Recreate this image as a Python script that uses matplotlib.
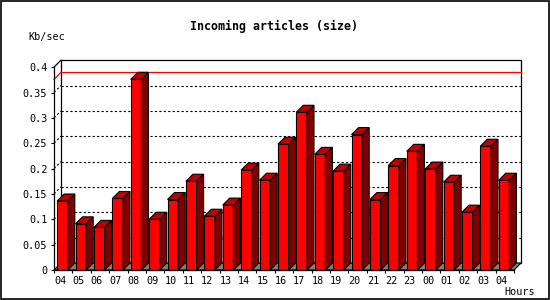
import matplotlib
matplotlib.use('Agg')
import matplotlib.pyplot as plt
from matplotlib.patches import Polygon, Rectangle
import numpy as np

# ---- data ----
hours = ['04', '05', '06', '07', '08', '09', '10', '11', '12', '13', '14', '15', '16',
         '17', '18', '19', '20', '21', '22', '23', '00', '01', '02', '03', '04']
values = [0.136, 0.091, 0.084, 0.141, 0.376, 0.100, 0.139, 0.175, 0.106, 0.128, 0.197,
          0.177, 0.248, 0.311, 0.228, 0.195, 0.267, 0.139, 0.206, 0.234, 0.199, 0.173,
          0.114, 0.244, 0.177]
y_ticks = [0, 0.05, 0.1, 0.15, 0.2, 0.25, 0.3, 0.35, 0.4]
y_tick_labels = ['0', '0.05', '0.1', '0.15', '0.2', '0.25', '0.3', '0.35', '0.4']
title = 'Incoming articles (size)'
y_unit = 'Kb/sec'
x_unit = 'Hours'

MONO = ['DejaVu Sans Mono']
W, H = 550, 300
fig = plt.figure(figsize=(W / 100, H / 100), dpi=100)
fig.patch.set_facecolor('white')
fig.patches.append(Rectangle((0.7 / W, 0.7 / H), 1 - 1.4 / W, 1 - 1.4 / H, transform=fig.transFigure,
                             fill=False, ec='black', lw=1.2))

n = len(hours)
ymax = 0.42
ax = fig.add_axes([54 / W, 30 / H, 460 / W, 213 / H])
ax.set_xlim(-0.5, n - 0.5)
ax.set_ylim(0, ymax)
ax.set_facecolor('none')
px_x = 460 / n
px_y = 213 / ymax
dx = 7 / px_x
dy = 7 / px_y
xl, xr = -0.5, n - 0.5
top = y_ticks[-1]

# back wall
ax.add_patch(Polygon([(xl + dx, dy), (xr + dx, dy), (xr + dx, top + dy), (xl + dx, top + dy)],
                     closed=True, fc='white', ec='black', lw=0.9, zorder=1, clip_on=False))
# left wall top edge
ax.plot([xl, xl + dx], [top, top + dy], color='black', lw=0.9, zorder=1, clip_on=False)

# grid lines
for t in y_ticks[1:-1]:
    ax.plot([xl + dx, xr + dx], [t + dy, t + dy], color='black', lw=0.8,
            ls=(0, (2, 2)), zorder=1.5, clip_on=False)
    ax.plot([xl, xl + dx], [t, t + dy], color='black', lw=0.8,
            ls=(0, (2, 2)), zorder=1.5, clip_on=False)

# max line
m = max(values)
ax.plot([xl + dx, xr + dx], [m + dy, m + dy], color='#ff0000', lw=0.9, zorder=1.6, clip_on=False)
ax.plot([xl, xl + dx], [m, m + dy], color='#ff0000', lw=0.9, zorder=1.6, clip_on=False)

# floor
ax.add_patch(Polygon([(xl, 0), (xr, 0), (xr + dx, dy), (xl + dx, dy)], closed=True,
                     fc='#808080', ec='black', lw=0.8, zorder=2, clip_on=False))

# bars
bw = 0.58
off = -0.04
xs = np.arange(n)
ax.bar(xs + off, values, width=bw, color='#ff0000', edgecolor='black', lw=0.8,
       zorder=3, clip_on=False)
for i, v in enumerate(values):
    x0 = i + off - bw / 2
    x1 = x0 + bw
    ax.add_patch(Polygon([(x0, v), (x1, v), (x1 + dx, v + dy), (x0 + dx, v + dy)], closed=True,
                         fc='#c00000', ec='black', lw=0.8, zorder=3, clip_on=False))
    ax.add_patch(Polygon([(x1, 0), (x1 + dx, dy), (x1 + dx, v + dy), (x1, v)], closed=True,
                         fc='#800000', ec='black', lw=0.8, zorder=3, clip_on=False))

# axes / spines
for s in ['top', 'right']:
    ax.spines[s].set_visible(False)
ax.spines['left'].set_bounds(0, top)
ax.spines['bottom'].set_bounds(xl, xr)
ax.spines['left'].set_linewidth(0.9)
ax.spines['bottom'].set_linewidth(0.9)
ax.spines['left'].set_zorder(4)
ax.spines['bottom'].set_zorder(4)

ax.set_yticks(y_ticks, y_tick_labels)
ax.tick_params(axis='y', length=2.3, width=0.8, pad=2.5, labelsize=7.3)
for lab in ax.get_yticklabels():
    lab.set_family(MONO)

ax.set_xticks(np.arange(xl, xr + 0.01, 1.0))
ax.set_xticklabels([])
ax.tick_params(axis='x', which='major', length=2, width=0.8)
ax.set_xticks(xs - 0.17, minor=True)
ax.set_xticklabels(hours, minor=True)
ax.tick_params(axis='x', which='minor', length=0, pad=4, labelsize=7.3)
for lab in ax.get_xticklabels(minor=True):
    lab.set_family(MONO)

fig.text(274 / W, 1 - 26.5 / H, title, ha='center', va='center', family=MONO,
         fontweight='bold', fontsize=8.4)
fig.text(28 / W, 1 - 37 / H, y_unit, ha='left', va='center', family=MONO, fontsize=7.3)
fig.text(504 / W, 1 - 292 / H, x_unit, ha='left', va='center', family=MONO, fontsize=7.3)

fig.savefig('out.png', dpi=100)
